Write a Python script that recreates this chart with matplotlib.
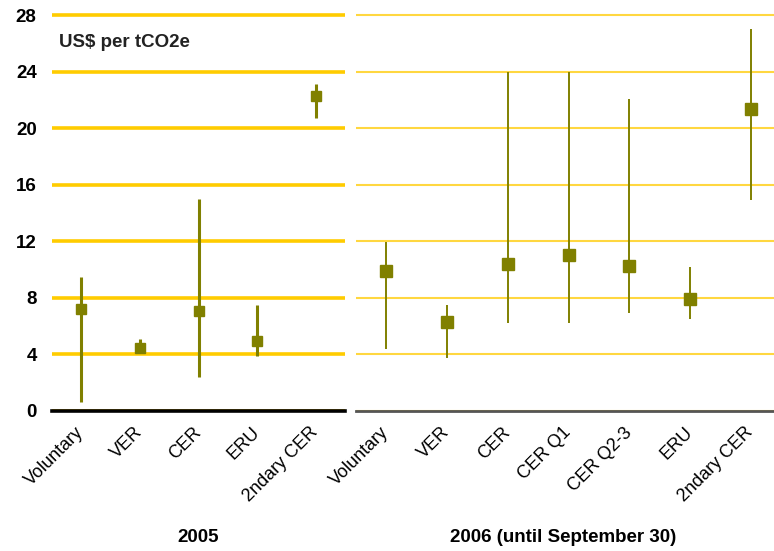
import matplotlib.pyplot as plt

plt.rcParams['font.family'] = ['Liberation Sans', 'DejaVu Sans']

# 2005
cats_05 = ['Voluntary', 'VER', 'CER', 'ERU', '2ndary CER']
mid_05 = [7.2, 4.45, 7.07, 4.9, 22.25]
low_05 = [0.6, 4.2, 2.4, 3.9, 20.7]
high_05 = [9.45, 5.05, 14.95, 7.45, 23.15]

# 2006 (until September 30)
cats_06 = ['Voluntary', 'VER', 'CER', 'CER Q1', 'CER Q2-3', 'ERU', '2ndary CER']
mid_06 = [9.9, 6.25, 10.4, 11.02, 10.25, 7.9, 21.35]
low_06 = [4.4, 3.7, 6.2, 6.2, 6.9, 6.5, 14.9]
high_06 = [11.95, 7.5, 24.0, 24.0, 22.05, 10.2, 27.0]

yticks = [0, 4, 8, 12, 16, 20, 24, 28]
olive = '#808000'

fig = plt.figure(figsize=(7.74, 5.51), dpi=100)
bottom = 1 - 410.7 / 551
height = 28.4 * 14.13 / 551
ax1 = fig.add_axes([52 / 774, bottom, 293 / 774, height])
ax2 = fig.add_axes([356 / 774, bottom, 425 / 774, height])

for ax, cats, mid, low, high, lw, ms in [
        (ax1, cats_05, mid_05, low_05, high_05, 2.2, 7.5),
        (ax2, cats_06, mid_06, low_06, high_06, 1.4, 8)]:
    x = range(len(cats))
    ax.vlines(x, low, high, color=olive, lw=lw, zorder=3)
    ax.plot(x, mid, 's', color=olive, ms=ms, zorder=4)
    ax.set_xlim(-0.5, len(cats) - 0.5)
    ax.set_ylim(0, 28.4)
    ax.set_yticks(yticks)
    ax.set_xticks(list(x))
    ax.set_xticklabels(cats, rotation=45, ha='right', va='center',
                       rotation_mode='anchor', fontsize=13)
    ax.tick_params(axis='both', length=0)
    ax.tick_params(axis='x', pad=14)
    for s in ['top', 'left', 'right']:
        ax.spines[s].set_visible(False)
    ax.set_axisbelow(True)

ax1.yaxis.grid(True, color='#FFCC00', lw=2.6)
ax2.yaxis.grid(True, color='#FFD740', lw=1.5)
ax1.spines['bottom'].set_color('black')
ax1.spines['bottom'].set_linewidth(2.6)
ax2.spines['bottom'].set_color('#555555')
ax2.spines['bottom'].set_linewidth(2)

ax1.set_yticklabels([str(v) for v in yticks], fontsize=13.5, fontweight='bold')
ax1.tick_params(axis='y', pad=11)
ax2.set_yticklabels([])

ax1.text(0.025, 0.918, 'US$ per tCO2e', transform=ax1.transAxes, fontsize=13.5,
         fontweight='bold', color='#222222', va='center')

fig.text(198 / 774, 1 - 537 / 551, '2005', ha='center', va='center',
         fontsize=13.5, fontweight='bold')
fig.text(563 / 774, 1 - 537 / 551, '2006 (until September 30)', ha='center',
         va='center', fontsize=13.5, fontweight='bold')

fig.savefig('out.png', dpi=100)
